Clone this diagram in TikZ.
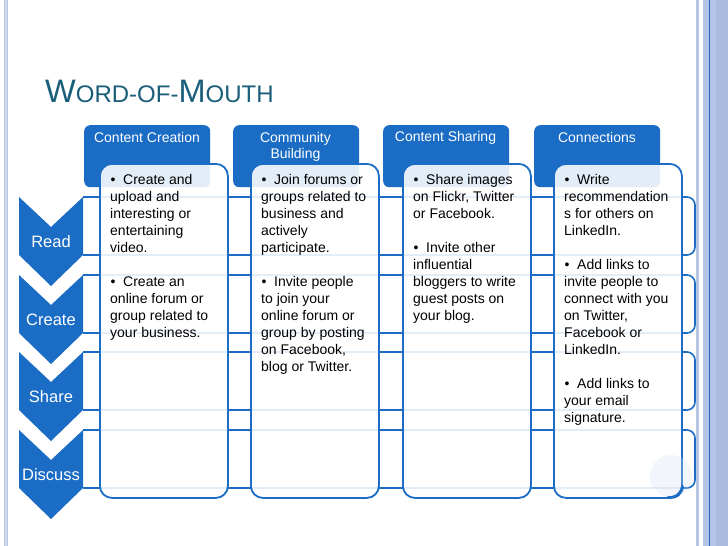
\documentclass[tikz,border=0pt]{standalone}
\usepackage{fontspec}
\setmainfont{Liberation Sans}
\definecolor{mainblue}{HTML}{1A6CC4}
\definecolor{titleteal}{HTML}{1B5E7B}
\definecolor{framelight}{HTML}{B7C5E3}
\definecolor{framemid}{HTML}{B3C5E6}
\definecolor{framedeep}{HTML}{A9BCDF}
\definecolor{framedark}{HTML}{2E66C2}
\definecolor{curlpale}{HTML}{D5E1F2}
\newcommand{\bul}{\makebox[0.93em][l]{\hspace{0.03em}•}}
\tikzset{
 rowband/.style={draw=mainblue, line width=1.6pt, rounded corners=8pt},
 chevron/.style={fill=mainblue},
 chevtext/.style={text=white, font=\fontsize{16.5}{18}\selectfont, inner sep=0},
 header/.style={fill=mainblue, rounded corners=6pt, minimum width=126pt, minimum height=62pt, anchor=north west, inner sep=0},
 headtext/.style={text=white, font=\fontsize{14}{16}\selectfont, align=center, inner sep=0},
 card/.style={draw=mainblue, line width=1.8pt, fill=white, fill opacity=0.88, rounded corners=12pt, minimum width=128pt, minimum height=334pt, anchor=north west, inner sep=0},
 cardtext/.style={anchor=base west, inner sep=0, text=black, font=\fontsize{14}{17}\selectfont},
}
\begin{document}
\begin{tikzpicture}[x=1pt,y=-1pt]
\useasboundingbox (0,0) rectangle (728,546);
\fill[white] (0,0) rectangle (728,546);
% frame
\fill[framelight!60] (4,0) rectangle (8,546);
\draw[framelight, line width=1.2pt] (4.6,0) -- (4.6,546);
\draw[framelight, line width=1.2pt] (7.4,0) -- (7.4,546);
\fill[framelight] (696,0) rectangle (699,546);
\fill[framemid] (703,0) rectangle (728,546);
\fill[framedeep] (716,0) rectangle (728,546);
\draw[framedark, line width=1pt] (709,0) -- (709,546);
% title
\node[anchor=base west, inner sep=0, text=titleteal] (title) at (45,102)
 {\fontsize{32.5}{32}\selectfont W\fontsize{24}{24}\selectfont ORD-OF-\fontsize{32.5}{32}\selectfont M\fontsize{24}{24}\selectfont OUTH};
% row bands
\foreach \t in {197,275,352,430}{
  \draw[rowband] (83,\t) -- (695,\t) -- (695,\t+58) -- (83,\t+58);
}
% chevrons
\foreach \t in {197,275,352,430}{
  \fill[chevron] (19,\t) -- (51,\t+30) -- (83,\t) -- (83,\t+58) -- (51,\t+89) -- (19,\t+58) -- cycle;
}
\node[chevtext] (read) at (51,242) {Read};
\node[chevtext] (create) at (51,319.5) {Create};
\node[chevtext] (share) at (51,397) {Share};
\node[chevtext] (discuss) at (51,474.5) {Discuss};
% headers
\node[header] (h1) at (84,125) {};
\node[header] (h2) at (233,125) {};
\node[header] (h3) at (383,125) {};
\node[header] (h4) at (534,125) {};
\node[headtext] (h1t) at (147,137.5) {Content Creation};
\node[headtext] (h2t) at (295.5,147) {Community\\Building};
\node[headtext] (h3t) at (445.5,137.5) {Content Sharing};
\node[headtext] (h4t) at (597,137.5) {Connections};
% cards
\node[card] (c1) at (99,163) {};
\node[card] (c2) at (250,163) {};
\node[card] (c3) at (402,163) {};
\node[card] (c4) at (553,163) {};
\node[cardtext] (t1) at (110,184) {\parbox[t]{125pt}{\raggedright
\bul Create and\\upload and\\interesting or\\entertaining\\video.\\[17pt]
\bul Create an\\online forum or\\group related to\\your business.}};
\node[cardtext] (t2) at (261,184) {\parbox[t]{125pt}{\raggedright
\bul Join forums or\\groups related to\\business and\\actively\\participate.\\[17pt]
\bul Invite people\\to join your\\online forum or\\group by posting\\on Facebook,\\blog or Twitter.}};
\node[cardtext] (t3) at (413,184) {\parbox[t]{125pt}{\raggedright
\bul Share images\\on Flickr, Twitter\\or Facebook.\\[17pt]
\bul Invite other\\influential\\bloggers to write\\guest posts on\\your blog.}};
\node[cardtext] (t4) at (564,184) {\parbox[t]{125pt}{\raggedright
\bul Write\\recommendation\\s for others on\\LinkedIn.\\[17pt]
\bul Add links to\\invite people to\\connect with you\\on Twitter,\\Facebook or\\LinkedIn.\\[17pt]
\bul Add links to\\your email\\signature.}};
% page curl decoration
\fill[curlpale, opacity=0.3] (671,476) circle (21);
\fill[mainblue] (667,496.3) .. controls (676,496.6) and (681,492) .. (681.6,484) -- (683.8,486.5) .. controls (683,494.5) and (678,499.6) .. (667,498.8) -- cycle;
\end{tikzpicture}
\end{document}
